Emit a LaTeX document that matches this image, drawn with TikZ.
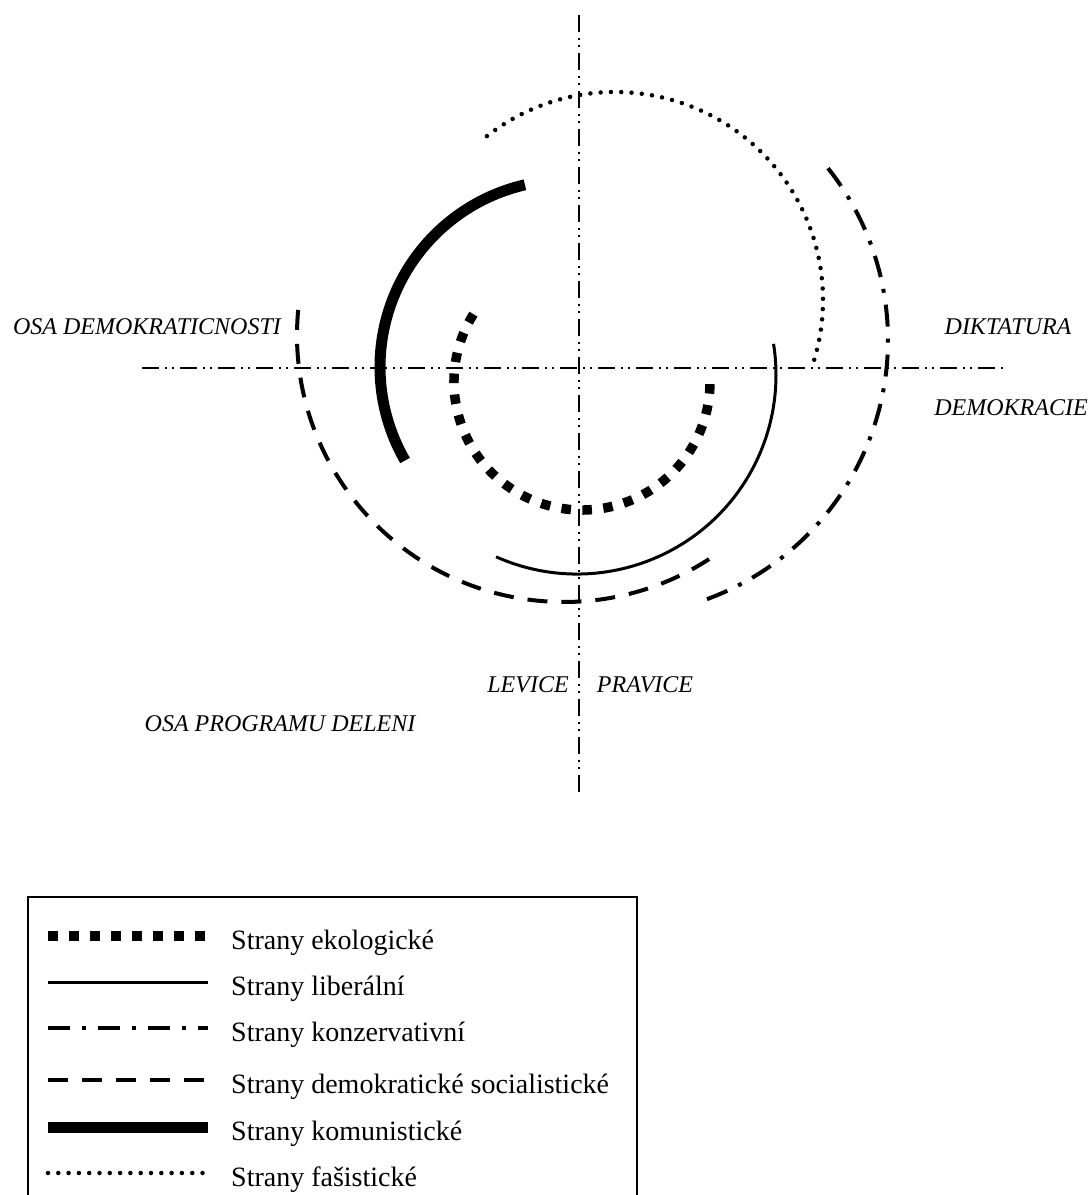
\documentclass[tikz,border=0pt]{standalone}
\usepackage{fontspec}
\setmainfont{Liberation Serif}
\usetikzlibrary{positioning,calc}

\tikzset{
  osa/.style={line width=1.5pt, dash pattern=on 17pt off 6pt on 2pt off 5pt on 2pt off 6pt},
  ekol/.style={line width=9.5pt, dash pattern=on 9.5pt off 11.5pt},
  liber/.style={line width=3pt},
  konz/.style={line width=4pt, dash pattern=on 22pt off 12pt on 4pt off 12pt},
  socdem/.style={line width=4pt, dash pattern=on 20pt off 14pt},
  komun/.style={line width=11pt},
  fasis/.style={line width=4.5pt, line cap=round, dash pattern=on 0pt off 10.3pt},
  osatext/.style={font=\fontsize{24}{28}\selectfont\itshape, inner sep=0pt},
  legtext/.style={font=\fontsize{28}{32}\selectfont, anchor=base west, inner sep=0pt}
}

\begin{document}
\begin{tikzpicture}[x=1pt,y=-1pt]
        \useasboundingbox (0,0) rectangle (1091,1195);

        %% axes
        \coordinate (osa_top) at (579,15);
        \coordinate (osa_bot) at (579,795);
        \coordinate (osa_lft) at (142,368);
        \coordinate (osa_rgt) at (1005,368);
        \draw[osa] (osa_top) -- (osa_bot);
        \draw[osa] (osa_lft) -- (osa_rgt);

        \node [osatext] (lbl_dem_osa) at (147,327) {OSA DEMOKRATICNOSTI};
        \node [osatext] (lbl_dikt) at (1008,327) {DIKTATURA};
        \node [osatext] (lbl_demo) at (1011,408) {DEMOKRACIE};
        \node [osatext] (lbl_lev) at (528,685) {LEVICE};
        \node [osatext] (lbl_prav) at (645,685) {PRAVICE};
        \node [osatext] (lbl_prog_osa) at (280,724) {OSA PROGRAMU DELENI};

        %% party arcs
        \draw[ekol] ($(582,382)+(-148:128)$) arc[start angle=-148, end angle=-362, radius=128];
        \draw[liber] ($(577,375)+(-246:199)$) arc[start angle=-246, end angle=-369, radius=199];
        \draw[komun] ($(567,367)+(-103:187)$) arc[start angle=-103, end angle=-210, radius=187];
        \draw[socdem] ($(564,335)+(-174.6:267)$) arc[start angle=-174.6, end angle=-303, radius=267];
        \draw[konz] ($(612,340)+(-38.5:276)$) arc[start angle=-38.5, end angle=71.8, radius=276];
        \draw[fasis] ($(615,300)+(-128:208)$) arc[start angle=-128, end angle=17.5, radius=208];

        %% legend
        \draw[line width=1.2pt] (28,897) rectangle (637,1215);
        \foreach \stil/\txt/\y [count=\i] in {ekol/Strany ekologické/936,
            liber/Strany liberální/982,
            konz/Strany konzervativní/1028,
            socdem/Strany demokratické socialistické/1080,
            komun/Strany komunistické/1127,
            fasis/Strany fašistické/1173} {
          \coordinate (leg_a\i) at (48,\y);
          \coordinate (leg_b\i) at (208,\y);
          \draw[\stil] (leg_a\i) -- (leg_b\i);
          \node [legtext, name=leg_txt\i] at (231,\y+13) {\txt};
        }

\end{tikzpicture}
\end{document}
